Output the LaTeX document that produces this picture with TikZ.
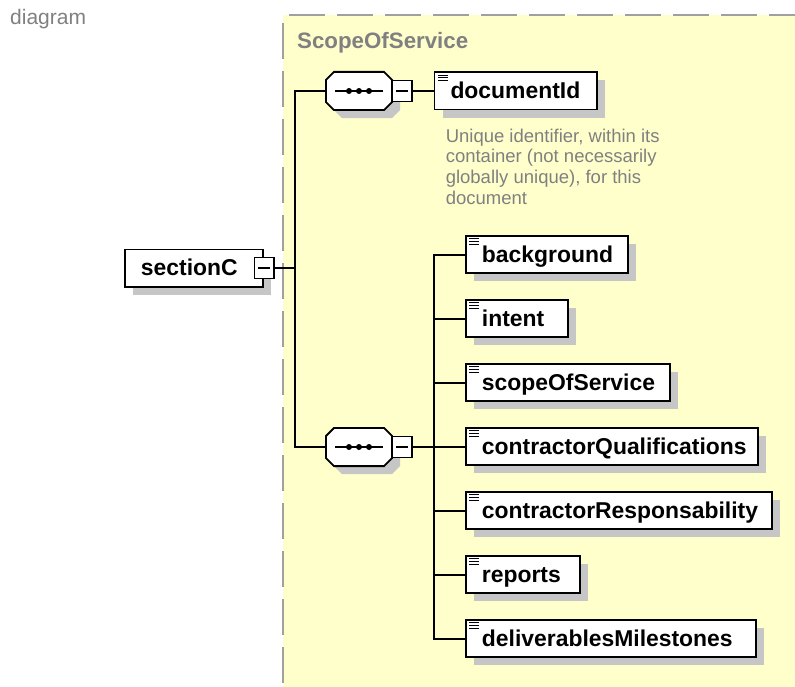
\documentclass[tikz,border=0pt]{standalone}
\usepackage{fontspec}
\setmainfont{Liberation Sans}
\usepackage{tikz}
\usetikzlibrary{
  positioning,
  shadows
}
\newcommand{\elemfont}{\fontsize{22.9}{26}\selectfont\bfseries\hyphenpenalty=10000\relax}
\newcommand{\notefont}{\fontsize{18.5}{20.7}\selectfont}
\newcommand{\seqoutline}[1]{%
  \draw[seqline,boxshadow]
    ([xshift=8pt]#1.north west) -- ([xshift=-8pt]#1.north east)
    -- ([yshift=-8pt]#1.north east) -- ([yshift=8pt]#1.south east)
    -- ([xshift=-8pt]#1.south east) -- ([xshift=8pt]#1.south west)
    -- ([yshift=8pt]#1.south west) -- ([yshift=-8pt]#1.north west) -- cycle;
  \draw[line width=1.6pt] ([xshift=-24pt]#1.center) -- ([xshift=24pt]#1.center);
  \foreach \dx in {-10,0,10}
    \fill[black] ([xshift=\dx pt]#1.center) circle (3pt);
}
\definecolor{panelyellow}{RGB}{255,255,204}
\definecolor{paneledge}{RGB}{160,160,160}
\definecolor{shadowgray}{RGB}{198,198,198}
\definecolor{notegray}{RGB}{128,128,128}
\tikzset{
  boxshadow/.style={
    drop shadow={shadow xshift=8pt,shadow yshift=-8pt,fill=shadowgray,opacity=1}
  },
  elembox/.style={
    draw=black,
    line width=1.9pt,
    fill=white,
    boxshadow,
    align=left,
    text width=#1,
    minimum height=37.1pt,
    inner xsep=16pt,
    inner ysep=0pt,
    text height=18.5pt,
    text depth=3.5pt,
    font=\elemfont
  },
  leafbox/.style={
    elembox=#1,
    path picture={
      \foreach \k in {0,1,2}
        \draw[line width=1.1pt]
          ([xshift=3.5pt,yshift=-2.8pt-\k*2.7pt]path picture bounding box.north west)
          -- ++(10,0);
    }
  },
  seqbox/.style={
    rectangle,
    minimum width=66.1pt,
    minimum height=38.1pt,
    inner sep=0pt,
    outer sep=0pt
  },
  seqline/.style={draw=black,line width=1.9pt,fill=white},
  expander/.style={
    draw=black,
    line width=1.4pt,
    fill=white,
    minimum width=19.6pt,
    minimum height=20.6pt,
    inner sep=0pt,
    path picture={
      \draw[line width=1.2pt]
        ([xshift=3.5pt]path picture bounding box.west)
        -- ([xshift=-3.5pt]path picture bounding box.east);
    }
  },
  link/.style={draw=black,line width=2pt},
  notetext/.style={font=\notefont,text=notegray,align=left,inner sep=0pt},
  paneltitle/.style={font=\fontsize{22.3}{26}\selectfont\bfseries,text=notegray,inner sep=0pt},
  panelborder/.style={draw=paneledge,line width=1.8pt,dash pattern=on 36pt off 12pt},
}

\begin{document}
\begin{tikzpicture}[x=1pt,y=-1pt]
  \useasboundingbox (0,0) rectangle (795,687);
  \fill[panelyellow] (283,15) rectangle (795,687);
  \draw[panelborder,dash phase=42pt] (283,15) -- (795,15);
  \draw[panelborder,dash phase=40pt] (283,15) -- (283,687);

  \node[text=notegray,font=\fontsize{21}{25}\selectfont,anchor=base west,inner sep=0pt] (diagramlabel) at (10,25) {diagram};
  \node[paneltitle,anchor=base west] (scopetitle) at (297,49) {ScopeOfService};

  \node[elembox=106.1pt,anchor=west] (sectionC) at (124,268) {sectionC};
  \node[expander] (sectionCexp) at (sectionC.east) {};

  \node[seqbox] (seqtop) at (359,91) {};
  \node[seqbox,below=317.9pt of seqtop] (seqbot) {};
  \seqoutline{seqtop}
  \seqoutline{seqbot}
  \node[expander,right=-0.5pt of seqtop] (seqtopexp) {};
  \node[expander,right=-0.5pt of seqbot] (seqbotexp) {};

  \node[leafbox=130.1pt,right=21pt of seqtopexp] (documentId) {documentId};
  \node[notetext,below right=18pt and 12pt of documentId.south west] (documentIdnote) {
    Unique identifier, within its\\container (not necessarily\\globally unique), for this\\document
  };

  \node[leafbox=130.1pt,anchor=west] (background) at (465,254.5) {background};
  \node[leafbox=70.1pt,below=25pt of background.south west,anchor=north west] (intent) {intent};
  \node[leafbox=172.1pt,below=25pt of intent.south west,anchor=north west] (scopeOfService) {scopeOfService};
  \node[leafbox=260.1pt,below=25pt of scopeOfService.south west,anchor=north west] (qualifications) {contractorQualifications};
  \node[leafbox=274.1pt,below=25pt of qualifications.south west,anchor=north west] (responsability) {contractorResponsability};
  \node[leafbox=82.1pt,below=25pt of responsability.south west,anchor=north west] (reports) {reports};
  \node[leafbox=258.1pt,below=25pt of reports.south west,anchor=north west] (milestones) {deliverablesMilestones};

  \coordinate (spine) at (295,268);
  \coordinate (fork) at ([xshift=21pt]seqbotexp.east);

  \draw[link] (sectionCexp.east) -- (spine);
  \draw[link] (seqtop.west) -| (spine) |- (seqbot.west);
  \draw[link] (seqtopexp.east) -- (documentId.west);
  \draw[link] (seqbotexp.east) -- (fork);
  \draw[link] (fork) |- (background.west);
  \draw[link] (fork) |- (intent.west);
  \draw[link] (fork) |- (scopeOfService.west);
  \draw[link] (fork) |- (qualifications.west);
  \draw[link] (fork) |- (responsability.west);
  \draw[link] (fork) |- (reports.west);
  \draw[link] (fork) |- (milestones.west);
\end{tikzpicture}
\end{document}
